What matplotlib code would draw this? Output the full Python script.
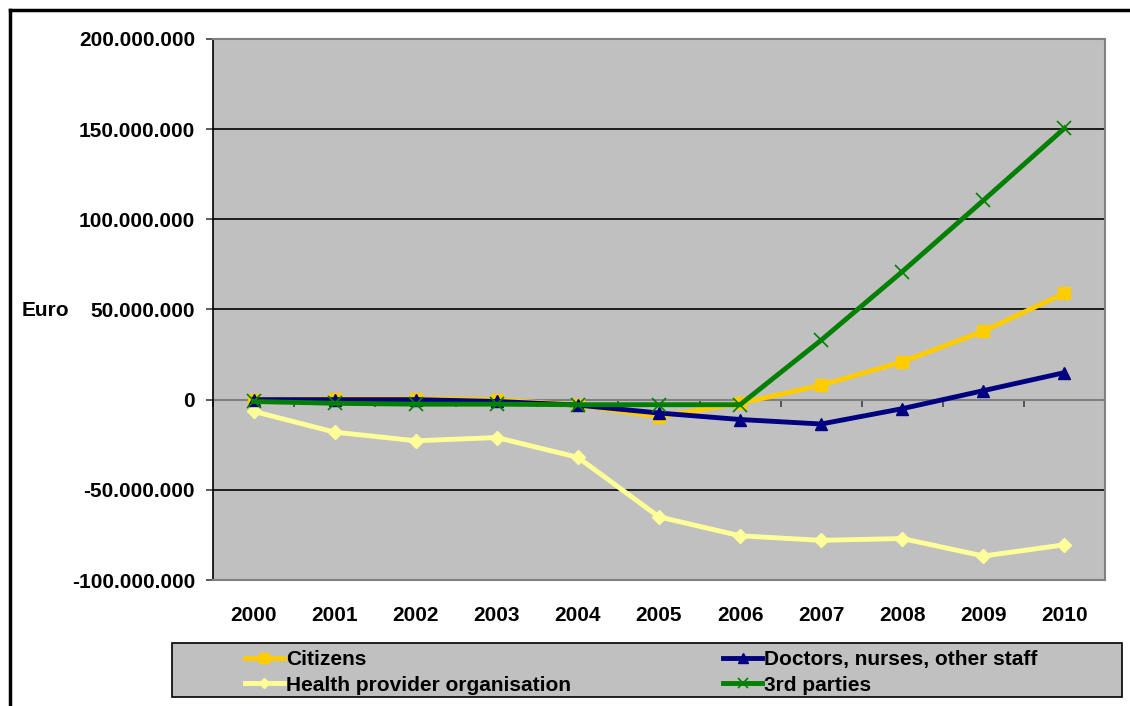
import matplotlib
matplotlib.use("Agg")
import matplotlib.pyplot as plt
from matplotlib.lines import Line2D
from matplotlib.patches import Rectangle
from matplotlib.ticker import FuncFormatter, MultipleLocator

years = ["2000", "2001", "2002", "2003", "2004", "2005", "2006", "2007", "2008", "2009", "2010"]
citizens = [0, 0.5e6, 0.5e6, 0, -3e6, -9.5e6, -2e6, 8e6, 21e6, 38e6, 59e6]
doctors = [0, 0, 0, -1e6, -3e6, -7.4e6, -11e6, -13.5e6, -5e6, 5e6, 15e6]
health = [-6.5e6, -18e6, -22.8e6, -21e6, -32e6, -65e6, -75.5e6, -78e6, -77e6, -86.7e6, -80.5e6]
third = [-1e6, -2e6, -2.5e6, -2.5e6, -2.8e6, -2.8e6, -2.8e6, 33e6, 71e6, 110.5e6, 150.5e6]

plt.rcParams['font.family'] = ['Liberation Sans', 'DejaVu Sans']
plt.rcParams['font.weight'] = 'bold'

W, H = 1130, 706
fig = plt.figure(figsize=(W / 100, H / 100), dpi=100)
ax = fig.add_axes([213 / W, 1 - 580 / H, (1105 - 213) / W, (580 - 39) / H])
ax.set_facecolor('#C0C0C0')

x = list(range(len(years)))
lw = 3.5
h1, = ax.plot(x, citizens, color='#FFCC00', lw=lw, marker='s', ms=8.5, label='Citizens', zorder=3)
h2, = ax.plot(x, doctors, color='#000080', lw=lw, marker='^', ms=8.5, label='Doctors, nurses, other staff', zorder=4)
h3, = ax.plot(x, health, color='#FFFF99', lw=lw, marker='D', ms=7, label='Health provider organisation', zorder=3)
h4, = ax.plot(x, third, color='#008000', lw=lw, marker='x', ms=9.5, mew=1.2, label='3rd parties', zorder=5)

ax.set_xlim(-0.5, len(years) - 0.5)
ax.set_ylim(-100e6, 200e6)
ax.yaxis.set_major_locator(MultipleLocator(50e6))
ax.yaxis.set_major_formatter(FuncFormatter(lambda v, p: f"{int(round(v)):,}".replace(",", ".")))
ax.grid(axis='y', color='black', lw=1.2, zorder=1)
ax.set_axisbelow(True)
ax.axhline(0, color='#808080', lw=1.5, zorder=2)

for side in ['top', 'right', 'bottom']:
    ax.spines[side].set_color('#808080')
    ax.spines[side].set_linewidth(1.5)
ax.spines['left'].set_color('black')
ax.spines['left'].set_linewidth(1.2)

ax.tick_params(axis='y', direction='out', length=5, width=1.2, color='#404040', labelsize=15, pad=8)
ax.set_xticks(x)
ax.set_xticklabels(years)
ax.tick_params(axis='x', length=0, labelsize=15, pad=19)
for t in ax.get_xticklabels() + ax.get_yticklabels():
    t.set_fontweight('bold')

# zero-line category axis with tick marks at category boundaries
sec = ax.secondary_xaxis(1 / 3)
sec.set_xticks([i - 0.5 for i in range(len(years) + 1)])
sec.set_xticklabels([])
sec.tick_params(axis='x', direction='out', length=5, width=1.2, color='#404040')
sec.spines['bottom'].set_visible(False)
sec.spines['top'].set_visible(False)

fig.text(22 / W, 1 - 310 / H, 'Euro', fontsize=15, fontweight='bold', va='center', ha='left')

# outer chart frame (left and top edges visible)
fig.add_artist(Line2D([9.5 / W, 9.5 / W], [0, 1 - 10 / H], color='black', lw=2.5, transform=fig.transFigure))
fig.add_artist(Line2D([9.5 / W, 1], [1 - 10 / H, 1 - 10 / H], color='black', lw=2.5, transform=fig.transFigure))

# legend box
fig.add_artist(Rectangle((172 / W, 1 - 697 / H), 950 / W, 54 / H, transform=fig.transFigure,
                         facecolor='#C0C0C0', edgecolor='black', lw=1.2, zorder=1))
leg = fig.legend([h1, h3, h2, h4],
                 ['Citizens', 'Health provider organisation', 'Doctors, nurses, other staff', '3rd parties'],
                 ncol=2, loc='upper left', bbox_to_anchor=(245 / W, 1 - 650 / H),
                 frameon=False, fontsize=15, handlelength=1.87, handletextpad=0.1,
                 borderpad=0, labelspacing=0.32, borderaxespad=0, columnspacing=7.3,
                 markerscale=0.8)
leg.set_zorder(2)
for t in leg.get_texts():
    t.set_fontweight('bold')

fig.savefig('out.png', dpi=100)
